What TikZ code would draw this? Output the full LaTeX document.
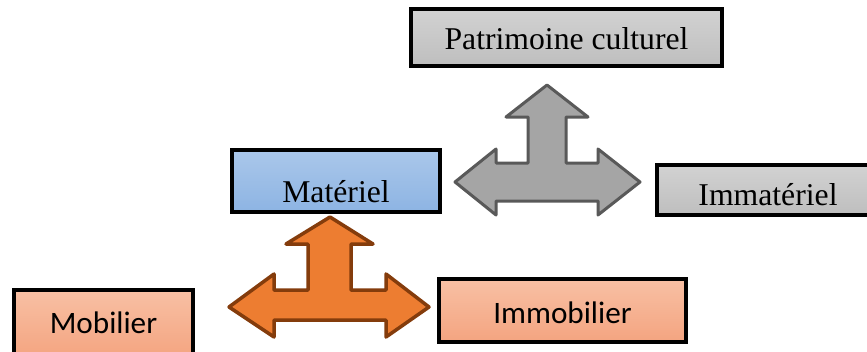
\documentclass[tikz,border=0pt]{standalone}
\usepackage{fontspec}
\setmainfont{Liberation Serif}
\newfontfamily\calib{Carlito}
\definecolor{gbt}{RGB}{210,210,210}
\definecolor{gbb}{RGB}{190,190,190}
\definecolor{bbt}{RGB}{170,199,234}
\definecolor{bbb}{RGB}{141,180,227}
\definecolor{obt}{RGB}{248,192,164}
\definecolor{obb}{RGB}{244,164,128}
\definecolor{gfill}{RGB}{165,165,165}
\definecolor{gline}{RGB}{89,89,89}
\definecolor{ofill}{RGB}{237,125,49}
\definecolor{oline}{RGB}{132,60,12}
\newcommand{\lowtxt}[2]{\raisebox{-#1}[0pt][0pt]{#2}}
\tikzset{
  box/.style={draw=black, line width=4pt, rectangle, inner sep=0pt,
    font=\fontsize{31.7}{36}\selectfont},
  graybox/.style={box, top color=gbt, bottom color=gbb},
  bluebox/.style={box, top color=bbt, bottom color=bbb},
  orbox/.style={box, top color=obt, bottom color=obb, font=\calib\fontsize{31.2}{36}\selectfont},
  garrow/.style={fill=gfill, draw=gline, line width=3pt, line join=round},
  oarrow/.style={fill=ofill, draw=oline, line width=3.5pt, line join=round}
}
\begin{document}
\begin{tikzpicture}[x=1pt,y=-1pt]
\useasboundingbox (0,0) rectangle (867,351);
\clip (0,0) rectangle (867,351);
% boxes
\node[graybox, minimum width=311pt, minimum height=57pt] (pat) at (566.5,37.5) {\lowtxt{11.5pt}{Patrimoine culturel}};
\node[bluebox, minimum width=208pt, minimum height=62pt] (mat) at (336,181) {\lowtxt{21pt}{Matériel}};
\node[graybox, minimum width=222pt, minimum height=50pt] (imm) at (768,190) {\lowtxt{15pt}{Immatériel}};
\node[orbox, minimum width=179pt, minimum height=68pt] (mob) at (103.5,324) {\lowtxt{9pt}{Mobilier}};
\node[orbox, minimum width=247pt, minimum height=63pt] (immo) at (562.5,310.5) {\lowtxt{12.5pt}{Immobilier}};
% gray three-way arrow
\draw[garrow] (547,85) -- (588,117) -- (566,117) -- (566,163) -- (598,163) -- (598,149)
  -- (640,182) -- (598,215) -- (598,201) -- (496,201) -- (496,215) -- (455,182)
  -- (496,149) -- (496,163) -- (528,163) -- (528,117) -- (506,117) -- cycle;
% orange three-way arrow
\draw[oarrow] (330,217) -- (373,244) -- (351,244) -- (351,290) -- (386,290) -- (386,274)
  -- (429,307) -- (386,337) -- (386,320) -- (274,320) -- (274,337) -- (229,307)
  -- (274,274) -- (274,290) -- (308,290) -- (308,244) -- (286,244) -- cycle;
\end{tikzpicture}
\end{document}
